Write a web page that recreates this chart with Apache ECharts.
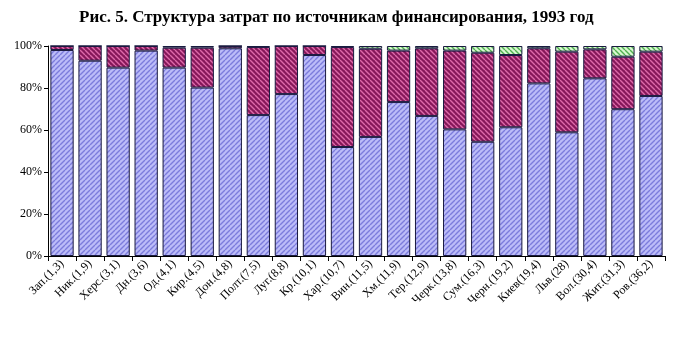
<!DOCTYPE html>
<html><head><meta charset="utf-8">
<script src="https://cdn.jsdelivr.net/npm/echarts@6/dist/echarts.min.js"></script>
<style>html,body{margin:0;padding:0;background:#fff}#c{width:692px;height:362px}</style>
</head><body><div id="c"></div>
<script>
const titleText = 'Рис. 5. Структура затрат по источникам финансирования, 1993 год';
const categories = ['Зап.(1,3)','Ник.(1,9)','Херс.(3,1)','Дн.(3,6)','Од.(4,1)','Кир.(4,5)','Дон.(4,8)','Полт.(7,5)','Луг.(8,8)','Кр.(10,1)','Хар.(10,7)','Вин.(11,5)','Хм.(11,9)','Тер.(12,9)','Черк.(13,8)','Сум.(16,3)','Черн.(19,2)','Киев(19,4)','Льв.(28)','Вол.(30,4)','Жит.(31,3)','Ров.(36,2)'];
const blueValues = [98.1,93.0,89.7,97.8,89.7,80.2,98.9,67.1,77.1,95.7,51.9,56.7,73.3,66.7,60.3,54.4,61.3,82.2,58.9,84.6,69.9,76.2];
const greenValues = [0,0,0,0,0.8,0.8,0,0.5,0,0,0.5,1.3,2.2,1.1,2.2,3.2,4.3,1.1,2.7,1.6,5.1,2.7];
const maroonValues = blueValues.map((b,i)=>+(100-b-greenValues[i]).toFixed(1));
const yTicks = [0,20,40,60,80,100];

function hatch(bg, fg, dir){
  const s = 5, c = document.createElement('canvas');
  c.width = s; c.height = s;
  const g = c.getContext('2d');
  g.fillStyle = bg; g.fillRect(0,0,s,s);
  g.strokeStyle = fg; g.lineWidth = 1.4;
  g.beginPath();
  if (dir > 0){
    for (let k=-s;k<=2*s;k+=s){ g.moveTo(k, s); g.lineTo(k+s, 0); }
  } else {
    for (let k=-s;k<=2*s;k+=s){ g.moveTo(k, 0); g.lineTo(k+s, s); }
  }
  g.stroke();
  return {image:c, repeat:'repeat'};
}

const chart = echarts.init(document.getElementById('c'), null, {renderer:'canvas'});
const serif = '"Liberation Serif","DejaVu Serif",serif';
const border = {borderColor:'#1a1a40', borderWidth:1};
chart.setOption({
  animation:false,
  backgroundColor:'#fff',
  title:{text:titleText, left:74, top:4, textStyle:{fontFamily:serif, fontWeight:'bold', fontSize:17, color:'#000'}},
  grid:{left:48, right:27, top:46, bottom:106},
  xAxis:{type:'category', data:categories,
    axisLine:{lineStyle:{color:'#000', width:1}},
    axisTick:{show:true, length:5, lineStyle:{color:'#000'}},
    axisLabel:{rotate:45, interval:0, fontFamily:serif, fontSize:12, color:'#000', margin:6}},
  yAxis:{type:'value', min:0, max:100, interval:20,
    splitLine:{show:false},
    axisLine:{show:true, lineStyle:{color:'#000'}},
    axisTick:{show:true, length:4, inside:false, lineStyle:{color:'#000'}},
    axisLabel:{formatter:v=>yTicks.includes(v)?v+'%':'', fontFamily:serif, fontSize:12, color:'#000', margin:6}},
  series:[
    {name:'blue', type:'bar', stack:'s', data:blueValues, barCategoryGap:'17%',
      itemStyle:Object.assign({color:hatch('#bcbcf8','#7c7cdc',1)}, border)},
    {name:'maroon', type:'bar', stack:'s', data:maroonValues,
      itemStyle:Object.assign({color:hatch('#86185a','#de6aaa',-1)}, border)},
    {name:'green', type:'bar', stack:'s', data:greenValues,
      itemStyle:Object.assign({color:hatch('#d8f8d0','#50b050',-1)}, border)}
  ]
});
</script></body></html>
